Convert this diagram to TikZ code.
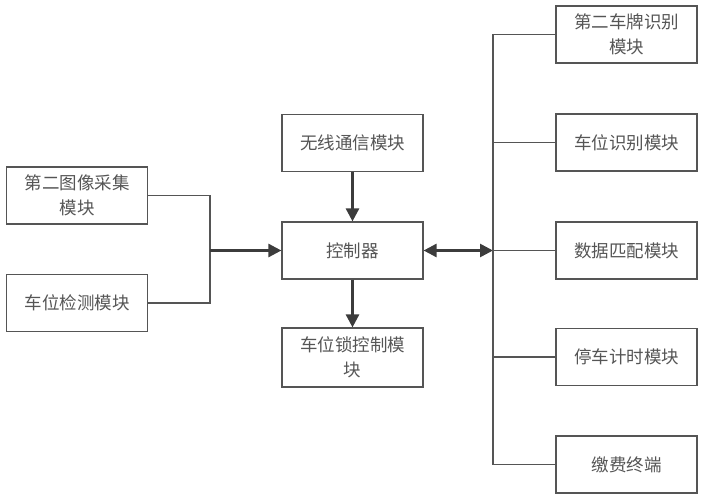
\documentclass[tikz,border=0pt]{standalone}
\usepackage{fontspec}
\newfontfamily\cjk{Noto Sans CJK SC}[Scale=1]
\usetikzlibrary{arrows.meta,positioning}
\definecolor{linec}{HTML}{555555}
\definecolor{arrc}{HTML}{3C3C3C}
\definecolor{txtc}{HTML}{555555}
\begin{document}
\begin{tikzpicture}[x=1pt,y=-1pt,
  box/.style={draw=linec,line width=1.2pt,minimum width=141pt,minimum height=57pt,inner sep=0pt,
    align=center,font=\cjk\fontsize{17.5}{25}\selectfont,text=txtc},
  wire/.style={draw=linec,line width=1.2pt},
  arr/.style={draw=arrc,line width=2.6pt,-{Triangle[length=13pt,width=13pt]}},
  darr/.style={draw=arrc,line width=2.6pt,{Triangle[length=13pt,width=13pt]}-{Triangle[length=13pt,width=13pt]}}]
\useasboundingbox (0,0) rectangle (703,500);
% left
\node[box] (img) at (77,195.5) {第二图像采集\\模块};
\node[box] (det) at (77,303) {车位检测模块};
% center
\node[box] (wl) at (352.5,143) {无线通信模块};
\node[box] (ctl) at (352.5,250.5) {控制器};
\node[box,minimum height=59pt] (lock) at (352.5,357.5) {车位锁控制模\\块};
% right
\node[box] (r1) at (626.5,34.5) {第二车牌识别\\模块};
\node[box] (r2) at (626.5,142.5) {车位识别模块};
\node[box] (r3) at (626.5,250.5) {数据匹配模块};
\node[box] (r4) at (626.5,357) {停车计时模块};
\node[box] (r5) at (626.5,464.5) {缴费终端};
% junctions
\coordinate (jl) at (210,250.5);
\coordinate (jr) at (493,250.5);
\draw[wire] (img.east) -| (jl) |- (det.east);
\draw[arr] (jl) -- (ctl.west);
\draw[arr] (wl.south) -- (ctl.north);
\draw[arr] (ctl.south) -- (lock.north);
\draw[darr] (ctl.east) -- (jr);
\draw[wire] (r1.west) -| (jr) |- (r5.west);
\draw[wire] (r2.west) -- (r2.west -| jr);
\draw[wire] (r3.west) -- (jr);
\draw[wire] (r4.west) -- (r4.west -| jr);
\end{tikzpicture}
\end{document}
